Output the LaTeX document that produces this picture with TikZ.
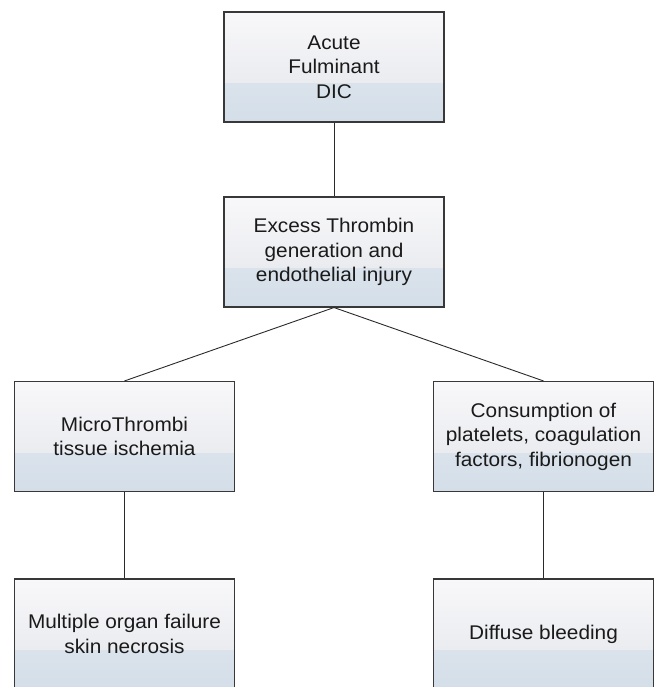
\documentclass[tikz,border=0pt]{standalone}
\usepackage{fontspec}
\setmainfont[FakeStretch=1.05]{Liberation Sans}
\usetikzlibrary{calc}
\definecolor{boxtop}{HTML}{F8F8FA}
\definecolor{boxmid}{HTML}{E3E5EA}
\definecolor{boxlowa}{HTML}{DAE3EC}
\definecolor{boxlowb}{HTML}{D4DEE8}
\definecolor{boxline}{HTML}{383838}
\definecolor{linkline}{HTML}{2A2A2A}
\definecolor{boxtext}{HTML}{1A1A1A}
\tikzset{
  stagebox/.style={
    draw=boxline, line width=1.1pt, inner sep=0pt,
    minimum width=220pt, minimum height=110pt,
    align=center, text=boxtext,
    font={\fontsize{19.8}{24.5}\selectfont},
    path picture={
      \fill[top color=boxtop, bottom color=boxmid]
        (path picture bounding box.north west) rectangle
        ($(path picture bounding box.north east)!0.65!(path picture bounding box.south east)$);
      \fill[top color=boxlowa, bottom color=boxlowb]
        ($(path picture bounding box.north west)!0.65!(path picture bounding box.south west)$)
        rectangle (path picture bounding box.south east);
    }
  },
  link/.style={draw=linkline, line width=0.9pt}
}
\begin{document}
\begin{tikzpicture}[x=1pt, y=-1pt]
  \useasboundingbox (0,0) rectangle (654,687);

  \node[stagebox] (dic)     at (334,67)    {Acute\\Fulminant\\DIC};
  \node[stagebox] (excess)  at (334,252)   {Excess Thrombin\\generation and\\endothelial injury};
  \node[stagebox] (micro)   at (124.5,436.5) {MicroThrombi\\tissue ischemia};
  \node[stagebox] (consume) at (543.5,436.5) {Consumption of\\platelets, coagulation\\factors, fibrionogen};
  \node[stagebox] (organ)   at (124.5,634) {Multiple organ failure\\skin necrosis};
  \node[stagebox] (bleed)   at (543.5,634) {Diffuse bleeding};

  \draw[link] (dic.south) -- (excess.north);
  \draw[link] (excess.south) -- (micro.north);
  \draw[link] (excess.south) -- (consume.north);
  \draw[link] (micro.south) -- (organ.north);
  \draw[link] (consume.south) -- (bleed.north);
\end{tikzpicture}
\end{document}
